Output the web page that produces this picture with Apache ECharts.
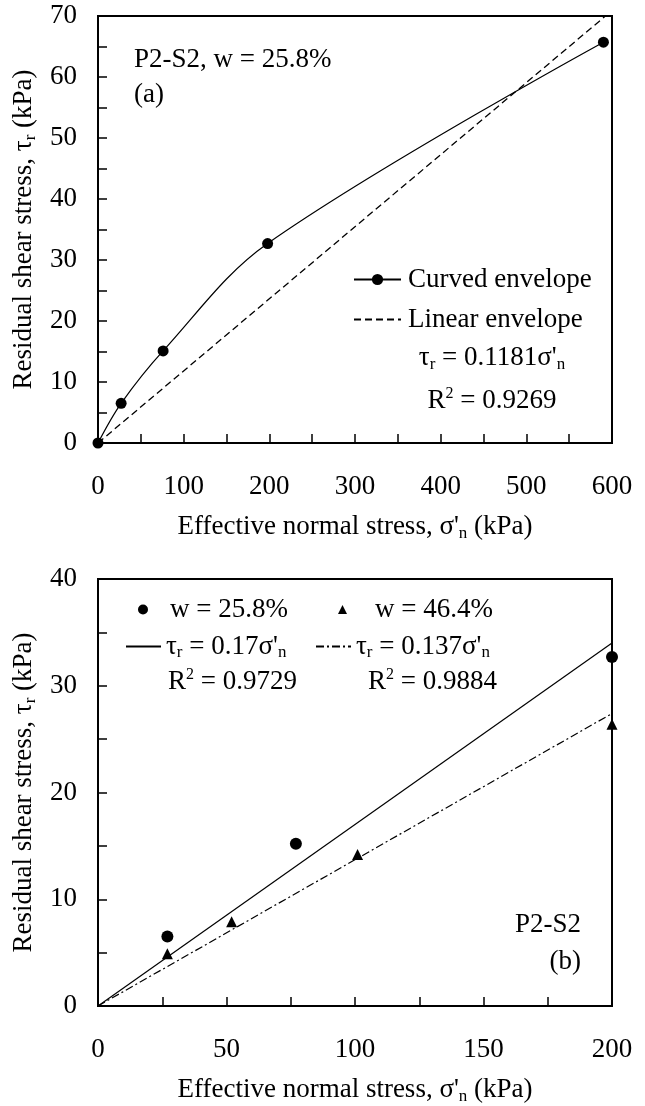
<!DOCTYPE html>
<html>
<head>
<meta charset="utf-8">
<script src="https://cdn.jsdelivr.net/npm/echarts@6/dist/echarts.min.js"></script>
<style>
html, body { margin: 0; padding: 0; background: #fff; }
#main { width: 645px; height: 1106px; }
</style>
</head>
<body>
<div id="main"></div>
<script>
// (a) P2-S2, w = 25.8% : curved envelope through test points
var curvedX = [0, 27, 76, 198, 590];
var curvedY = [0, 6.5, 15.1, 32.7, 65.7];
// (a) linear envelope, tau_r = 0.1181 sigma'_n
var linearX = [0, 600];
var linearY = [0, 70.9];

// (b) test points for both water contents
var dryX = [27, 77, 200];
var dryY = [6.5, 15.2, 32.7];
var wetX = [27, 52, 101, 200];
var wetY = [4.9, 7.9, 14.2, 26.4];
// (b) fitted lines
var dryFitX = [0, 200];
var dryFitY = [0, 34.0];
var wetFitX = [0, 200];
var wetFitY = [0, 27.4];

// tick labels
var xLabelsA = [0, 100, 200, 300, 400, 500, 600];
var yLabelsA = [0, 10, 20, 30, 40, 50, 60, 70];
var xLabelsB = [0, 50, 100, 150, 200];
var yLabelsB = [0, 10, 20, 30, 40];

var FONT = '"Liberation Serif", "Times New Roman", serif';
var FS = 27;

function pts(xs, ys) {
  return xs.map(function (x, i) { return [x, ys[i]]; });
}
function onlyLabels(list) {
  return function (v) { return list.indexOf(v) >= 0 ? String(v) : ''; };
}

var rich = {
  t: { fontFamily: FONT, fontSize: FS, color: '#000', lineHeight: 30 },
  s: { fontFamily: FONT, fontSize: 17, color: '#000', lineHeight: 16, verticalAlign: 'bottom' },
  p: { fontFamily: FONT, fontSize: 16, color: '#000', lineHeight: 15, verticalAlign: 'top' }
};

var legendText = {
  'Curved envelope': '{t|Curved envelope}',
  'Linear envelope': '{t|Linear envelope}',
  'w = 25.8%': '{t|w = 25.8%}',
  'w = 46.4%': '{t|w = 46.4%}',
  "τr = 0.17σ'n": "{t|τ}{s|r}{t| = 0.17σ'}{s|n}",
  "τr = 0.137σ'n": "{t|τ}{s|r}{t| = 0.137σ'}{s|n}"
};

function axisCommon(extra) {
  var base = {
    type: 'value',
    axisLine: { show: true, lineStyle: { color: '#000', width: 2 } },
    axisTick: { show: true, inside: true, length: 9, lineStyle: { color: '#000', width: 1.5 } },
    splitLine: { show: false },
    axisLabel: { color: '#000', fontFamily: FONT, fontSize: FS },
    nameLocation: 'middle',
    nameTextStyle: { rich: rich }
  };
  for (var k in extra) {
    if (k === 'axisLabel') {
      for (var j in extra.axisLabel) base.axisLabel[j] = extra.axisLabel[j];
    } else {
      base[k] = extra[k];
    }
  }
  return base;
}

function legend(extra, pad) {
  var o = {
    orient: 'vertical',
    selectedMode: false,
    padding: 0,
    textStyle: { fontFamily: FONT, fontSize: FS, color: '#000', rich: rich, padding: pad || 0 },
    formatter: function (name) { return legendText[name]; }
  };
  for (var j in extra) o[j] = extra[j];
  return o;
}

var myChart = echarts.init(document.getElementById('main'));

var option = {
  backgroundColor: '#fff',
  animation: false,
  grid: [
    { left: 98, top: 16, width: 514, height: 427, show: true, borderColor: '#000', borderWidth: 2 },
    { left: 98, top: 579, width: 514, height: 431, show: true, borderColor: '#000', borderWidth: 2 }
  ],
  xAxis: [
    axisCommon({
      gridIndex: 0, min: 0, max: 600, interval: 50,
      axisLabel: { margin: 30, formatter: onlyLabels(xLabelsA) },
      name: "{t|Effective normal stress, σ'}{s|n}{t| (kPa)}", nameGap: 69
    }),
    axisCommon({
      gridIndex: 1, min: 0, max: 200, interval: 25,
      axisLabel: { margin: 30, formatter: onlyLabels(xLabelsB) },
      name: "{t|Effective normal stress, σ'}{s|n}{t| (kPa)}", nameGap: 69
    })
  ],
  yAxis: [
    axisCommon({
      gridIndex: 0, min: 0, max: 70, interval: 5,
      axisLabel: { margin: 21, formatter: onlyLabels(yLabelsA) },
      name: '{t|Residual shear stress, τ}{s|r}{t| (kPa)}', nameGap: 53, nameRotate: 90
    }),
    axisCommon({
      gridIndex: 1, min: 0, max: 40, interval: 5,
      axisLabel: { margin: 21, formatter: onlyLabels(yLabelsB) },
      name: '{t|Residual shear stress, τ}{s|r}{t| (kPa)}', nameGap: 53, nameRotate: 90
    })
  ],
  legend: [
    legend({ left: 353, top: 266, itemWidth: 47, itemHeight: 14, itemGap: 13,
             data: ['Curved envelope', { name: 'Linear envelope', itemStyle: { opacity: 0 } }] }, [0, 0, 0, 2]),
    legend({ left: 138, top: 596, itemWidth: 10, itemHeight: 10,
             data: ['w = 25.8%'] }, [0, 0, 0, 17]),
    legend({ left: 338, top: 596, itemWidth: 9, itemHeight: 9,
             data: ['w = 46.4%'] }, [0, 0, 0, 23]),
    legend({ left: 125, top: 633, itemWidth: 35, itemHeight: 12,
             data: [{ name: "τr = 0.17σ'n", itemStyle: { opacity: 0 } }] }),
    legend({ left: 315, top: 633, itemWidth: 35, itemHeight: 12,
             data: [{ name: "τr = 0.137σ'n", itemStyle: { opacity: 0 } }] })
  ],
  graphic: [
    { type: 'text', x: 134, y: 60, style: { text: 'P2-S2, w = 25.8%', fontFamily: FONT, fontSize: FS, fill: '#000', verticalAlign: 'middle' } },
    { type: 'text', x: 134, y: 95, style: { text: '(a)', fontFamily: FONT, fontSize: FS, fill: '#000', verticalAlign: 'middle' } },
    { type: 'text', x: 492, y: 358, style: { text: "{t|τ}{s|r}{t| = 0.1181σ'}{s|n}", rich: rich, align: 'center', verticalAlign: 'middle' } },
    { type: 'text', x: 492, y: 401, style: { text: '{t|R}{p|2}{t| = 0.9269}', rich: rich, align: 'center', verticalAlign: 'middle' } },
    { type: 'text', x: 168, y: 682, style: { text: '{t|R}{p|2}{t| = 0.9729}', rich: rich, align: 'left', verticalAlign: 'middle' } },
    { type: 'text', x: 368, y: 682, style: { text: '{t|R}{p|2}{t| = 0.9884}', rich: rich, align: 'left', verticalAlign: 'middle' } },
    { type: 'text', x: 581, y: 925, style: { text: 'P2-S2', fontFamily: FONT, fontSize: FS, fill: '#000', align: 'right', verticalAlign: 'middle' } },
    { type: 'text', x: 581, y: 962, style: { text: '(b)', fontFamily: FONT, fontSize: FS, fill: '#000', align: 'right', verticalAlign: 'middle' } }
  ],
  series: [
    {
      name: 'Curved envelope', type: 'line', xAxisIndex: 0, yAxisIndex: 0,
      data: pts(curvedX, curvedY), smooth: 0.35,
      symbol: 'circle', symbolSize: 11, showAllSymbol: true, z: 3,
      lineStyle: { color: '#000', width: 1.2 },
      itemStyle: { color: '#000', opacity: 1 }
    },
    {
      name: 'Linear envelope', type: 'line', xAxisIndex: 0, yAxisIndex: 0,
      data: pts(linearX, linearY), symbol: 'none', z: 2,
      lineStyle: { color: '#000', width: 1.3, type: [7, 4] },
      itemStyle: { color: '#000' }
    },
    {
      name: 'w = 25.8%', type: 'scatter', xAxisIndex: 1, yAxisIndex: 1,
      data: pts(dryX, dryY), symbol: 'circle', symbolSize: 12, z: 3,
      itemStyle: { color: '#000', opacity: 1 }
    },
    {
      name: 'w = 46.4%', type: 'scatter', xAxisIndex: 1, yAxisIndex: 1,
      data: pts(wetX, wetY), symbol: 'triangle', symbolSize: 11, z: 3,
      itemStyle: { color: '#000', opacity: 1 }
    },
    {
      name: "τr = 0.17σ'n", type: 'line', xAxisIndex: 1, yAxisIndex: 1,
      data: pts(dryFitX, dryFitY), symbol: 'none', z: 2,
      lineStyle: { color: '#000', width: 1.2 },
      itemStyle: { color: '#000' }
    },
    {
      name: "τr = 0.137σ'n", type: 'line', xAxisIndex: 1, yAxisIndex: 1,
      data: pts(wetFitX, wetFitY), symbol: 'none', z: 2,
      lineStyle: { color: '#000', width: 1.2, type: [8, 3, 2, 3] },
      itemStyle: { color: '#000' }
    }
  ]
};

myChart.setOption(option);
</script>
</body>
</html>
